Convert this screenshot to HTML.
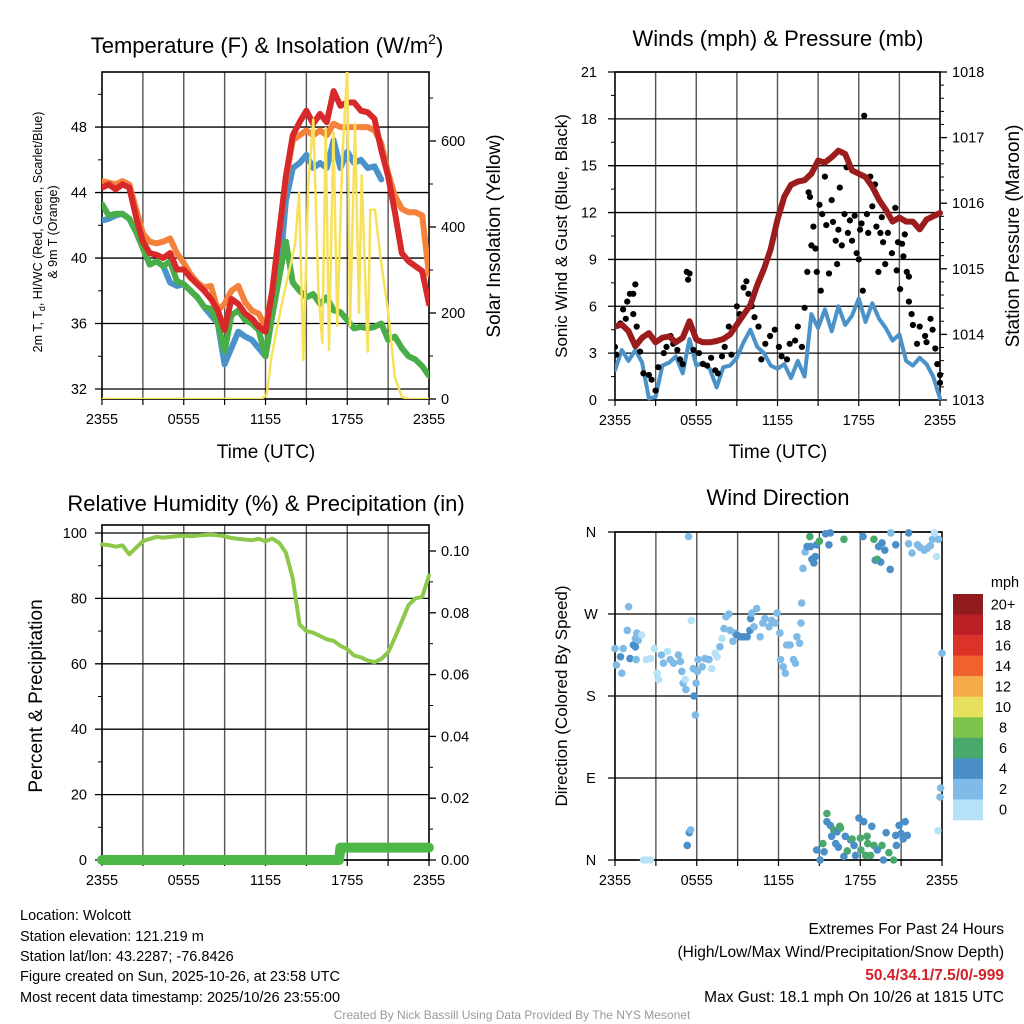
<!DOCTYPE html>
<html><head><meta charset="utf-8"><style>
html,body{margin:0;padding:0;background:#fff;}
svg{display:block;font-family:"Liberation Sans",sans-serif;}
</style></head><body>
<svg id="chart" width="1024" height="1024" viewBox="0 0 1024 1024" xmlns="http://www.w3.org/2000/svg">
<rect x="0" y="0" width="1024" height="1024" fill="#fff"/>
<g><text x="267" y="53" font-size="22" text-anchor="middle">Temperature (F) &amp; Insolation (W/m<tspan font-size="14" dy="-9">2</tspan><tspan dy="9">)</tspan></text></g>
<text x="778" y="46" font-size="22" text-anchor="middle">Winds (mph) &amp; Pressure (mb)</text>
<text x="266" y="511" font-size="22" text-anchor="middle">Relative Humidity (%) &amp; Precipitation (in)</text>
<text x="778" y="505" font-size="22" text-anchor="middle">Wind Direction</text>
<g font-size="12.5" text-anchor="middle">
<text transform="translate(42,232) rotate(-90)">2m T, T<tspan font-size="9" dy="3">d</tspan><tspan dy="-3">, HI/WC (Red, Green, Scarlet/Blue)</tspan></text>
<text transform="translate(57,232) rotate(-90)">&amp; 9m T (Orange)</text>
</g>
<text transform="translate(500,236) rotate(-90)" font-size="19" text-anchor="middle">Solar Insolation (Yellow)</text>
<text transform="translate(567,236) rotate(-90)" font-size="17" text-anchor="middle">Sonic Wind &amp; Gust (Blue, Black)</text>
<text transform="translate(1019,236) rotate(-90)" font-size="19" text-anchor="middle">Station Pressure (Maroon)</text>
<text transform="translate(42,696) rotate(-90)" font-size="19" text-anchor="middle">Percent &amp; Precipitation</text>
<text transform="translate(567,696) rotate(-90)" font-size="17" text-anchor="middle">Direction (Colored By Speed)</text>
<text x="266" y="458" font-size="19" text-anchor="middle">Time (UTC)</text>
<text x="778" y="458" font-size="19" text-anchor="middle">Time (UTC)</text>
<g font-size="14.5">
<text x="20" y="920">Location: Wolcott</text>
<text x="20" y="941">Station elevation: 121.219 m</text>
<text x="20" y="961">Station lat/lon: 43.2287; -76.8426</text>
<text x="20" y="981">Figure created on Sun, 2025-10-26, at 23:58 UTC</text>
<text x="20" y="1002">Most recent data timestamp: 2025/10/26 23:55:00</text>
</g>
<g font-size="15.5" text-anchor="end">
<text x="1004" y="934">Extremes For Past 24 Hours</text>
<text x="1004" y="957">(High/Low/Max Wind/Precipitation/Snow Depth)</text>
<text x="1004" y="980" fill="#d22027" font-weight="bold">50.4/34.1/7.5/0/-999</text>
<text x="1004" y="1002">Max Gust: 18.1 mph On 10/26 at 1815 UTC</text>
</g>
<text x="512" y="1019" font-size="12" fill="#999" text-anchor="middle">Created By Nick Bassill Using Data Provided By The NYS Mesonet</text>
</svg>
<script>
// ---------- DATA ----------
const halfHours = [0,0.5,1,1.5,2,2.5,3,3.5,4,4.5,5,5.5,6,6.5,7,7.5,8,8.5,9,9.5,10,10.5,11,11.5,12,12.5,13,13.5,14,14.5,15,15.5,16,16.5,17,17.5,18,18.5,19,19.5,20,20.5,21,21.5,22,22.5,23,23.5,24];
const timeTickLabels = ["2355","0555","1155","1755","2355"];
const tempTicks = [32,36,40,44,48];
const solarTicks = [0,200,400,600];
const temp2m = [44.3,44.5,44.2,44.5,44.3,42.5,41,40.3,40.2,40.0,40.3,39.3,39.3,38.8,38.4,38.0,37.5,36.8,35.6,37.5,37.2,36.6,36.3,35.8,35.5,38,41.5,45,47.5,48.3,49.0,48.2,48.8,48.3,50.2,49.3,49.5,49.5,49.0,48.9,48.5,46.6,45,42.8,40.3,39.8,39.5,39.2,37.2];
const temp9m = [44.7,44.6,44.5,44.7,44.5,43,41.5,41,40.9,41,41.2,40.3,39.7,39,38.5,38.2,38.3,36.8,37.2,38,38.3,37.3,36.8,36.6,35.8,38,41.5,44.8,47.2,47.5,47.8,47.5,47.8,47.5,48.2,48,48,48,48,48,47.8,47,45.2,43.8,43,42.8,42.8,42.6,39];
const dewpoint = [43.3,42.6,42.7,42.7,42.4,41.6,40.6,39.6,39.8,39.5,39.8,38.6,38.4,38.0,37.6,37.0,36.9,36.0,34.3,36.5,36.8,36.2,36.0,35.6,34.0,36.5,38.8,41.0,38.5,38.0,37.6,37.8,37.2,37.6,36.8,36.7,36.2,35.7,35.8,35.7,35.8,36,35.0,35.2,34.5,34.0,33.8,33.4,32.8];
const heatIndex = [42.3,42.4,42.6,42.7,42.4,41.6,40.6,39.6,39.8,39.5,38.5,38.3,38.4,38.0,37.6,37.0,36.5,36.0,33.5,34.5,35.5,35.2,35.0,34.5,34.0,36.5,38.8,43.5,45.5,45.8,46.3,45.5,45.8,45.5,47.2,45.5,46.5,45.8,46,45.5,45.6,44.8,null,null,null,null,null,null,null];
const solarHours = [0,11.72,12.09,12.45,13.19,14.17,14.46,14.78,15.14,15.51,15.88,16.17,16.42,16.66,16.98,17.27,17.64,18.0,18.2,18.57,18.86,19.06,19.5,19.69,20.04,20.48,21.01,21.5,22.0,22.48,24];
const solarValues = [0,0,10,100,220,360,480,90,500,650,250,130,630,114,620,170,560,770,170,640,200,520,110,440,440,320,200,50,5,0,0];

const windTicks = [0,3,6,9,12,15,18,21];
const pressureTicks = [1013,1014,1015,1016,1017,1018];
const sonicWind = [1.9,3.2,2.5,3.2,2.4,0.1,0.2,2.2,2.4,2.8,1.7,3.9,2.2,2.4,2.0,0.8,2.1,2.2,2.7,3.7,4.5,3.4,3.0,2.2,2.0,2.3,1.4,2.5,1.5,5.5,4.6,5.8,4.4,6.0,4.8,5.4,6.5,5.0,6.2,5.2,4.6,3.8,4.2,2.5,2.2,2.7,2.3,1.5,0.1];
const pressure = [1014.12,1014.15,1014.05,1013.82,1013.95,1014.02,1013.88,1013.95,1013.97,1013.88,1013.95,1014.2,1013.92,1013.88,1013.88,1013.9,1013.93,1014.0,1014.15,1014.3,1014.45,1014.75,1015.0,1015.3,1015.75,1016.1,1016.28,1016.33,1016.35,1016.45,1016.65,1016.62,1016.7,1016.8,1016.75,1016.5,1016.45,1016.4,1016.25,1016.05,1015.9,1015.72,1015.78,1015.72,1015.72,1015.6,1015.75,1015.8,1015.85];
const gustHours = [0,0.1,0.4,0.6,0.8,0.9,1.1,1.35,1.5,1.35,1.6,1.85,2.1,2.5,2.7,3.0,3.2,3.6,3.8,4.1,4.3,4.6,4.8,5.0,5.3,5.5,5.4,5.8,6.2,6.5,6.8,7.1,7.4,7.6,7.9,8.1,8.4,8.6,9.0,9.2,9.5,9.7,9.85,10.1,10.3,10.6,10.8,11.1,11.45,11.8,12.1,12.3,12.7,12.9,13.3,13.5,13.8,14.0,14.2,14.3,14.4,14.5,14.65,14.8,14.9,15.1,15.2,15.3,15.5,15.6,15.8,16.0,16.1,16.3,16.4,16.5,16.6,16.75,16.95,17.1,17.2,17.35,17.5,17.7,17.85,18.0,18.1,18.2,18.3,18.4,18.6,18.7,18.85,19.0,19.2,19.3,19.45,19.6,19.7,19.8,19.95,20.15,20.45,20.7,20.8,20.9,21.05,21.2,21.3,21.4,21.55,21.7,21.7,21.9,22.0,22.3,22.5,22.9,23.0,23.3,23.45,23.65,23.8,24.0,24.0];
const gustValues = [3.4,2.9,4.9,5.8,5.2,6.3,6.8,6.8,7.4,5.5,4.7,3.1,1.7,1.6,1.3,0.6,2.1,3.0,3.4,4.1,3.6,3.2,2.6,2.3,8.2,8.1,7.7,3.2,3.0,2.3,2.2,2.7,1.9,1.7,2.8,3.4,4.7,2.9,6.0,5.5,7.2,7.6,6.8,6.0,5.3,4.7,2.6,3.6,4.1,4.5,3.4,2.8,2.6,3.6,3.8,4.7,3.4,5.9,8.2,13.3,13.0,9.9,11.1,9.7,8.2,12.5,7.0,11.9,14.3,11.2,8.1,12.8,11.4,10.2,8.7,10.9,13.6,9.9,11.9,14.9,10.7,11.5,10.2,11.8,9.4,9.0,10.9,11.3,7.0,18.2,11.9,10.7,14.3,12.4,13.8,11.1,8.2,10.7,11.7,10.1,8.7,10.7,9.4,12.3,8.3,10.1,7.1,10.0,9.2,10.6,8.2,7.9,6.3,5.5,4.8,3.6,4.7,4.1,3.7,5.2,4.5,3.3,2.3,1.6,1.1];

const rhTicks = [0,20,40,60,80,100];
const precipTicks = [0,0.02,0.04,0.06,0.08,0.10];
const relHumidity = [96.5,96.3,95.8,96.2,93.5,95.5,97.5,98.2,98.8,98.6,98.8,99,99.2,99,99.2,99.4,99.5,99.3,99.0,98.5,98.2,98.0,97.8,98.2,97.5,98.3,97.0,94,86,72,70,69.5,68.5,67.5,67,65.5,64.5,62.5,62,61,60.5,61.5,63.5,68,73,78,80,80.5,87];
const precipHours = [0,17.4,17.5,24];
const precipValues = [0,0,0.004,0.004];

const dirTickLabels = ["N","W","S","E","N"];
const dirTickValues = [360,270,180,90,0];
const dirHours = [
 0,0.1,0.4,0.5,0.6,0.9,1.0,1.1,1.35,1.5,
 1.6,1.7,1.95,1.5,1.55,2.3,2.6,2.9,3.1,3.2,
 3.4,3.55,3.85,4.05,4.3,4.65,4.8,4.9,5.0,5.2,
 5.15,5.4,5.6,5.75,5.8,5.9,5.95,6.05,6.1,6.4,
 6.6,6.9,7.1,7.35,7.5,7.7,7.85,8.0,8.15,8.35,
 8.45,8.65,8.8,8.95,9.2,9.45,9.7,9.9,9.95,10.05,
 10.2,10.4,10.65,10.85,11.0,11.3,11.5,11.75,11.9,12.1,
 12.15,12.35,12.5,12.6,12.85,13.1,13.25,13.35,13.55,13.65,
 13.7,13.8,13.95,14.1,14.3,14.35,14.45,14.6,14.7,14.8,
 15.0,15.45,15.7,15.8,16.8,18.2,19.0,19.35,19.6,19.8,
 19.1,19.25,19.5,20.2,20.25,20.6,21.55,21.55,21.8,22.2,
 22.4,22.7,22.9,23.15,23.3,23.45,23.6,23.75,24.0,23.9,
 23.85,23.7,2.1,2.3,2.6,5.3,5.45,5.55,14.8,15.05,
 15.25,15.35,15.55,15.55,15.8,15.9,16.05,16.3,16.5,16.55,
 16.2,16.4,16.8,16.9,17.05,17.3,17.4,17.55,17.65,17.9,
 18.0,18.05,18.25,18.4,18.5,18.55,18.75,18.85,19.0,19.25,
 19.6,19.7,19.9,20.1,20.45,20.65,20.6,20.85,21.0,21.15,
 21.3,21.45];
const dirDegrees = [
 232,214,223,205,232,252,278,221,236,243,
 249,241,247,234,220,220,221,232,205,198,
 225,216,229,220,216,225,218,207,194,187,
 198,355,263,210,180,159,194,207,220,212,
 221,220,210,227,223,234,243,254,267,270,
 252,240,249,247,245,245,245,252,265,271,
 256,276,245,260,265,256,263,260,271,249,
 220,212,205,236,236,220,216,245,238,260,
 282,320,338,344,355,344,330,326,333,346,
 350,358,346,359,352,355,352,344,348,340,
 329,330,327,319,359,346,359,347,337,346,
 343,340,342,345,352,359,333,352,227,79,
 69,32,0,0,0,16,30,33,11,0,
 18,9,51,42,38,26,33,31,37,35,
 18,14,4,26,10,22,23,16,5,46,
 24,11,42,5,26,18,5,37,16,11,
 16,0,30,8,0,16,27,38,29,23,
 42,27];
const dirSpeeds = [
 3,3,5,3,3,3,3,5,5,3,
 3,3,1,5,3,1,1,1,1,1,
 3,3,1,3,3,3,3,3,3,3,
 1,3,1,3,5,3,3,3,3,3,
 3,3,1,1,1,3,1,3,3,3,
 3,3,3,5,5,5,5,5,5,3,
 3,3,3,3,3,3,3,3,3,3,
 3,3,3,3,3,3,3,3,3,3,
 3,3,3,5,7,5,5,5,5,5,
 7,5,5,5,7,5,7,5,5,5,
 5,7,5,5,3,5,5,3,3,3,
 3,3,3,3,3,1,1,3,3,3,
 3,1,1,1,1,5,5,3,5,5,
 7,5,7,5,5,5,7,5,7,7,
 5,5,5,5,7,5,7,5,5,5,
 7,7,5,7,7,7,7,5,7,5,
 7,5,5,7,7,5,5,5,5,5,
 5,5];

const speedBinLabels = ["20+","18","16","14","12","10","8","6","4","2","0"];
const speedBinColors = ["#911a1d","#bd1f26","#dc3329","#ef612d","#f6ab4a","#e7e05c","#7dc24b","#49a86b","#4a8fc8","#7fbbe6","#b7e3f8"];

// ---------- DRAWING ----------
const NS = "http://www.w3.org/2000/svg";
const svg = document.getElementById("chart");
function el(tag, parent){ const e = document.createElementNS(NS, tag); (parent||svg).appendChild(e); return e; }
function grp(parent){ return el("g", parent); }

function makeAxes(p){
  const g = grp();
  
  
  for (let h = 3; h < 24; h += 3){
    const l = el("line", g);
    const x = p.xf(h);
    l.setAttribute("x1", x); l.setAttribute("x2", x); l.setAttribute("y1", p.y0); l.setAttribute("y2", p.y1);
    l.setAttribute("stroke", "#555"); l.setAttribute("stroke-width", "1.4");
    
    
  }
  p.lt.forEach((v, i) => {
    const y = p.yl(v);
    const l = el("line", g);
    l.setAttribute("x1", p.x0 - 7); l.setAttribute("x2", p.x1); l.setAttribute("y1", y); l.setAttribute("y2", y);
    l.setAttribute("stroke", "#000"); l.setAttribute("stroke-width", "1.3");
    
    
    const t = el("text", g);
    t.setAttribute("x", p.ltx); t.setAttribute("y", y + 5);
    t.setAttribute("font-size", "14.5"); t.setAttribute("text-anchor", p.ltAnchor || "end");
    t.textContent = p.ltLabels ? p.ltLabels[i] : String(v);
    
    
  });
  (p.lminor||[]).forEach(v => {
    const y = p.yl(v); const l = el("line", g);
    l.setAttribute("x1", p.x0 - 4); l.setAttribute("x2", p.x0); l.setAttribute("y1", y); l.setAttribute("y2", y);
    l.setAttribute("stroke", "#000"); l.setAttribute("stroke-width", "1");
    
    
  });
  if (p.rt){
    p.rt.forEach((v, i) => {
      const y = p.yr(v); const l = el("line", g);
      l.setAttribute("x1", p.x1); l.setAttribute("x2", p.x1 + 7); l.setAttribute("y1", y); l.setAttribute("y2", y);
      l.setAttribute("stroke", "#000"); l.setAttribute("stroke-width", "1.3");
      
      
      const t = el("text", g);
      t.setAttribute("x", p.x1 + 12); t.setAttribute("y", y + 5); t.setAttribute("font-size", "14.5");
      t.textContent = p.rtFmt ? p.rtFmt(v) : String(v);
      
      
    });
    (p.rminor||[]).forEach(v => {
      const y = p.yr(v); const l = el("line", g);
      l.setAttribute("x1", p.x1); l.setAttribute("x2", p.x1 + 4); l.setAttribute("y1", y); l.setAttribute("y2", y);
      l.setAttribute("stroke", "#000"); l.setAttribute("stroke-width", "1");
      
      
    });
  }
  for (let h = 0; h <= 24; h += 3){
    const x = p.xf(h); const l = el("line", g);
    l.setAttribute("x1", x); l.setAttribute("x2", x); l.setAttribute("y1", p.y1); l.setAttribute("y2", p.y1 + 6);
    l.setAttribute("stroke", "#000"); l.setAttribute("stroke-width", "1.2");
    
    
  }
  timeTickLabels.forEach((lab, i) => {
    const t = el("text", g);
    t.setAttribute("x", p.xf(i * 6)); t.setAttribute("y", p.y1 + 25);
    t.setAttribute("font-size", "14.5"); t.setAttribute("text-anchor", "middle");
    t.textContent = lab;
    
    
  });
  const f = el("rect", g);
  f.setAttribute("x", p.x0); f.setAttribute("y", p.y0); f.setAttribute("width", p.x1 - p.x0); f.setAttribute("height", p.y1 - p.y0);
  f.setAttribute("fill", "none"); f.setAttribute("stroke", "#000"); f.setAttribute("stroke-width", "1.6");
  
  
}

function linePath(xs, ys, xf, yf){
  let d = ""; let pen = false;
  for (let i = 0; i < xs.length; i++){
    if (ys[i] === null || ys[i] === undefined){ pen = false; continue; }
    d += (pen ? "L" : "M") + xf(xs[i]).toFixed(1) + "," + yf(ys[i]).toFixed(1);
    pen = true;
  }
  return d;
}
function drawLine(parent, xs, ys, xf, yf, color, w){
  const p = el("path", parent);
  p.setAttribute("d", linePath(xs, ys, xf, yf));
  p.setAttribute("fill", "none"); p.setAttribute("stroke", color); p.setAttribute("stroke-width", w);
  p.setAttribute("stroke-linejoin", "round"); p.setAttribute("stroke-linecap", "round");
  return p;
}

// ---- Panel 1: temperature ----
const P1 = {x0:102, x1:429, y0:72, y1:399};
const x1f = h => P1.x0 + h * (P1.x1 - P1.x0) / 24;
const y1l = v => 389 - (v - 32) * 16.37;
const y1r = v => 399 - v * 0.43;
const clipDefs = el("defs");
function clip(id, P){ const c = el("clipPath", clipDefs); c.setAttribute("id", id); const r = el("rect", c);
  r.setAttribute("x", P.x0); r.setAttribute("y", P.y0); r.setAttribute("width", P.x1 - P.x0); r.setAttribute("height", P.y1 - P.y0); }
clip("c1", P1);
makeAxes({name:"temperature", x0:P1.x0, x1:P1.x1, y0:P1.y0, y1:P1.y1, xf:x1f, yl:y1l, yr:y1r, lt:tempTicks, ltx:87,
  lminor:[34,38,42,46,50], rt:solarTicks, rminor:[100,300,500,700]});
const g1 = grp(); g1.setAttribute("clip-path", "url(#c1)");


const s1 = drawLine(g1, halfHours, heatIndex, x1f, y1l, "#4b92c9", 6);


const s2 = drawLine(g1, halfHours, dewpoint, x1f, y1l, "#4aae48", 6);


const s3 = drawLine(g1, halfHours, temp9m, x1f, y1l, "#f5823a", 6);


const s4 = drawLine(g1, halfHours, temp2m, x1f, y1l, "#d7282a", 6);


const s5 = drawLine(g1, solarHours, solarValues, x1f, y1r, "#f7e15a", 2.5);



// ---- Panel 2: winds ----
const P2 = {x0:615, x1:940, y0:72, y1:400};
const x2f = h => P2.x0 + h * (P2.x1 - P2.x0) / 24;
const y2l = v => 400 - v * 15.62;
const y2r = v => 400 - (v - 1013) * 65.6;
clip("c2", {x0:P2.x0, x1:P2.x1 + 6, y0:P2.y0, y1:P2.y1 + 4});
makeAxes({name:"winds", x0:P2.x0, x1:P2.x1, y0:P2.y0, y1:P2.y1, xf:x2f, yl:y2l, yr:y2r, lt:windTicks, ltx:597,
  lminor:[1.5,4.5,7.5,10.5,13.5,16.5,19.5], rt:pressureTicks,
  rminor:[1013.2,1013.4,1013.6,1013.8,1014.2,1014.4,1014.6,1014.8,1015.2,1015.4,1015.6,1015.8,1016.2,1016.4,1016.6,1016.8,1017.2,1017.4,1017.6,1017.8]});
const g2 = grp(); g2.setAttribute("clip-path", "url(#c2)");


const w1 = drawLine(g2, halfHours, sonicWind, x2f, y2l, "#4b92c9", 4);


const gustG = grp(g2);


gustHours.forEach((h, i) => {
  const c = el("circle", gustG);
  c.setAttribute("cx", x2f(Math.min(h, 24)).toFixed(1)); c.setAttribute("cy", y2l(gustValues[i]).toFixed(1));
  c.setAttribute("r", "3.1"); c.setAttribute("fill", "#000");
  
  
});
const w2 = drawLine(g2, halfHours, pressure, x2f, y2r, "#9b1c1c", 6);



// ---- Panel 3: humidity ----
const P3 = {x0:102, x1:429, y0:525, y1:860};
const x3f = h => P3.x0 + h * (P3.x1 - P3.x0) / 24;
const y3l = v => 860 - v * 3.27;
const y3r = v => 860 - v * 3090;
makeAxes({name:"humidity", x0:P3.x0, x1:P3.x1, y0:P3.y0, y1:P3.y1, xf:x3f, yl:y3l, yr:y3r, lt:rhTicks, ltx:87,
  lminor:[10,30,50,70,90], rt:precipTicks, rtFmt:v => v.toFixed(2), rminor:[0.01,0.03,0.05,0.07,0.09]});
const g3 = grp();


const r1 = drawLine(g3, halfHours, relHumidity, x3f, y3l, "#8cc84a", 4);


const r2 = drawLine(g3, precipHours, precipValues, x3f, y3r, "#4db848", 10);



// ---- Panel 4: wind direction ----
const P4 = {x0:615, x1:942, y0:532, y1:860};
const x4f = h => P4.x0 + h * (P4.x1 - P4.x0) / 24;
const y4l = v => 860 - v * (P4.y1 - P4.y0) / 360;
makeAxes({name:"direction", x0:P4.x0, x1:P4.x1, y0:P4.y0, y1:P4.y1, xf:x4f, yl:y4l, lt:dirTickValues, ltLabels:dirTickLabels, ltx:591, ltAnchor:"middle"});
const g4 = grp();


function speedColor(s){ const idx = Math.min(10, Math.floor(s / 2)); return speedBinColors[10 - idx]; }
const nDir = Math.min(dirHours.length, dirDegrees.length, dirSpeeds.length);
for (let i = 0; i < nDir; i++){
  const c = el("circle", g4);
  c.setAttribute("cx", x4f(dirHours[i]).toFixed(1)); c.setAttribute("cy", y4l(dirDegrees[i]).toFixed(1));
  c.setAttribute("r", "3.8"); c.setAttribute("fill", speedColor(dirSpeeds[i]));
  
  
}

// ---- colorbar ----
const cb = grp();


const cbTop = 594, cbH = 226 / speedBinLabels.length;
speedBinLabels.forEach((lab, i) => {
  const r = el("rect", cb);
  r.setAttribute("x", 953); r.setAttribute("y", (cbTop + i * cbH).toFixed(1));
  r.setAttribute("width", 30); r.setAttribute("height", (cbH + 0.3).toFixed(1));
  r.setAttribute("fill", speedBinColors[i]);
  
  
  const t = el("text", cb);
  t.setAttribute("x", 1003); t.setAttribute("y", (cbTop + i * cbH + cbH / 2 + 5).toFixed(1));
  t.setAttribute("font-size", "14.5"); t.setAttribute("text-anchor", "middle");
  t.textContent = lab;
  
  
});
const mph = el("text", cb);
mph.setAttribute("x", 1005); mph.setAttribute("y", 587); mph.setAttribute("font-size", "14.5"); mph.setAttribute("text-anchor", "middle");
mph.textContent = "mph";


</script>
</body></html>
